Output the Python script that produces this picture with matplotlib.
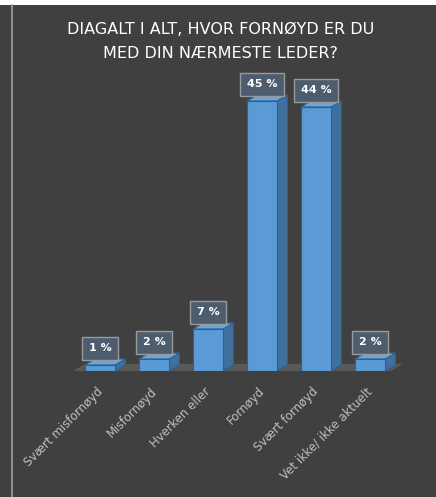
import matplotlib.pyplot as plt
from matplotlib.patches import Polygon, Rectangle
import matplotlib.transforms as mtrans
import numpy as np

# data
categories = ["Svært misfornøyd", "Misfornøyd", "Hverken eller",
              "Fornøyd", "Svært fornøyd", "Vet ikke/ ikke aktuelt"]
values = [1, 2, 7, 45, 44, 2]
labels = ["1 %", "2 %", "7 %", "45 %", "44 %", "2 %"]
title = "DIAGALT I ALT, HVOR FORNØYD ER DU\nMED DIN NÆRMESTE LEDER?"

BG = "#404040"
FRONT = "#5b9bd5"
SIDE = "#3f6f9d"
TOP = "#6aa6dc"
EDGE = "#2f5f8f"
BAR_W = 0.56
DX, DY = 0.19, 1.0   # 3d depth in data units

fig = plt.figure(figsize=(4.36, 4.97), dpi=100)
fig.patch.set_facecolor(BG)

# white strip on top and the thin frame line on the left
fig.add_artist(Rectangle((0, 1 - 5 / 497), 1, 5 / 497, transform=fig.transFigure,
                         facecolor="white", edgecolor="none"))
fig.add_artist(plt.Line2D([12 / 436, 12 / 436], [0, 1 - 5 / 497], transform=fig.transFigure,
                          color="#a0a0a0", lw=1.2))

ax = fig.add_axes([73 / 436, 126 / 497, 324 / 436, 300 / 497])
ax.set_facecolor(BG)
ax.set_xlim(-0.5, 5.5)
ax.set_ylim(0, 50)
for s in ax.spines.values():
    s.set_visible(False)
ax.set_yticks([])

x = np.arange(len(values))

# floor
ax.add_patch(Polygon([(-0.5, 0), (5.5 - DX * 0.6, 0), (5.5 + DX * 0.6, DY * 1.2), (-0.5 + DX * 1.2, DY * 1.2)],
                     closed=True, facecolor="#595959", edgecolor="none", zorder=1, clip_on=False))

bars = ax.bar(x, values, width=BAR_W, color=FRONT, edgecolor=EDGE, lw=0.8, zorder=3)
for b, v in zip(bars, values):
    x0 = b.get_x()
    x1 = x0 + b.get_width()
    # side face
    ax.add_patch(Polygon([(x1, 0), (x1 + DX, DY), (x1 + DX, v + DY), (x1, v)],
                         closed=True, facecolor=SIDE, edgecolor=EDGE, lw=0.8, zorder=2, clip_on=False))
    # top face
    ax.add_patch(Polygon([(x0, v), (x0 + DX, v + DY), (x1 + DX, v + DY), (x1, v)],
                         closed=True, facecolor=TOP, edgecolor=EDGE, lw=0.8, zorder=2, clip_on=False))

for xi, v, lab in zip(x, values, labels):
    ax.annotate(lab, (xi, v), xytext=(0, 12), textcoords="offset points",
                ha="center", va="center", color="white", fontsize=8, fontweight="bold",
                bbox=dict(boxstyle="square,pad=0.6", facecolor="#4d5d6e",
                          edgecolor="#9a9a9a", lw=1.0), zorder=5)

ax.set_xticks(x)
ax.set_xticklabels(categories, rotation=45, ha="right", rotation_mode="anchor",
                   color="#bfbfbf", fontsize=8.5)
ax.tick_params(axis="x", length=0, pad=10)
for t in ax.get_xticklabels():
    t.set_transform(t.get_transform() + mtrans.ScaledTranslation(-4 / 100, 0, fig.dpi_scale_trans))

fig.text(0.505, 1 - 42 / 497, title, ha="center", va="center", color="white",
         fontsize=11.5, linespacing=1.75)

fig.savefig("out.png", dpi=100, facecolor=BG)
